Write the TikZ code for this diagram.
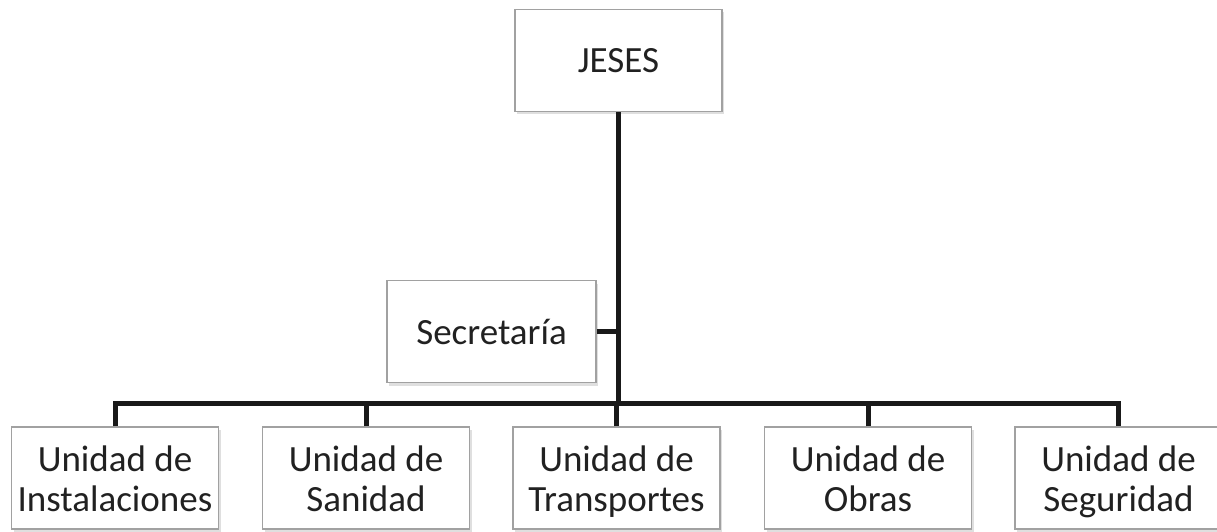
\documentclass[tikz,border=0pt]{standalone}
\usepackage{fontspec}
\setmainfont{Carlito}
\usetikzlibrary{shadows}
\newcommand\topstrut{\rule{0pt}{36pt}}
\newcommand\botstrut{\rule[-9pt]{0pt}{9pt}}

\begin{document}
\begin{tikzpicture}[
        x=1pt, y=-1pt,
        every node/.style={
                font=\fontsize{37}{40}\selectfont, text=black!87
            },
        line/.style={line width=5pt, draw=black!90}
    ]
    \tikzset  {
        unitbox/.style = {rectangle, draw=black!37, line width=1.5pt, fill=white, align=center, inner sep=0pt, minimum width=207pt, minimum height=102pt, drop shadow={shadow xshift=2pt, shadow yshift=-3pt, opacity=0.25}},
    }
    \useasboundingbox (0,0) rectangle (1217,532);
    \node [unitbox] (jeses) at (618.5,60.5) {JESES};
    \node [unitbox, minimum width=209pt] (secretaria) at (491.5,331.5) {Secretaría};
    \node [unitbox] (instalaciones) at (115,478) {\topstrut Unidad de\\Instalaciones\botstrut};
    \node [unitbox] (sanidad) at (366,478) {\topstrut Unidad de\\Sanidad\botstrut};
    \node [unitbox] (transportes) at (616.5,478) {\topstrut Unidad de\\Transportes\botstrut};
    \node [unitbox] (obras) at (868,478) {\topstrut Unidad de\\Obras\botstrut};
    \node [unitbox] (seguridad) at (1118.5,478) {\topstrut Unidad de\\Seguridad\botstrut};
    \coordinate (bus) at (618,403);
    \draw [line] (jeses.south) -- (jeses.south |- bus);
    \draw [line] (secretaria.east) -- (secretaria.east -| bus);
    \draw [line] (instalaciones.north) |- (bus) -| (seguridad.north);
    \draw [line] (sanidad.north) -- (sanidad.north |- bus);
    \draw [line] (transportes.north) -- (transportes.north |- bus);
    \draw [line] (obras.north) -- (obras.north |- bus);
\end{tikzpicture}
\end{document}
